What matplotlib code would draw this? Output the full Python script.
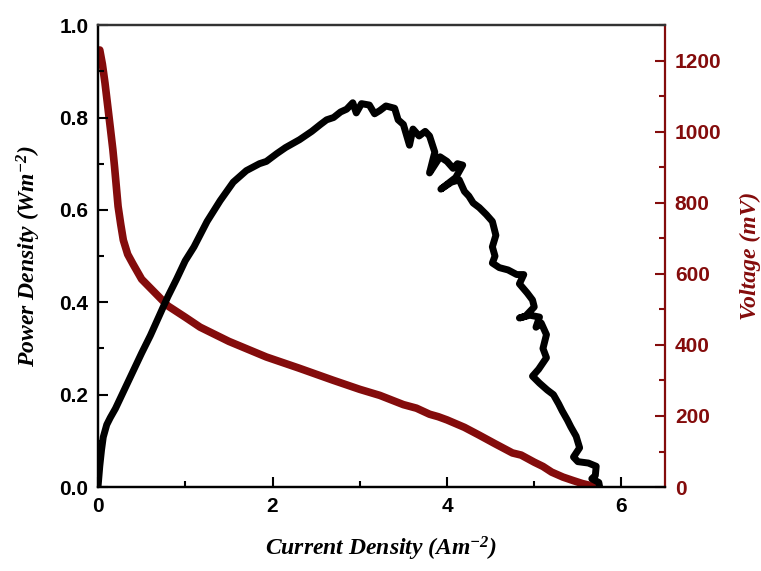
import matplotlib
matplotlib.use("Agg")
import matplotlib.pyplot as plt
from matplotlib.ticker import MultipleLocator

plt.rcParams["mathtext.fontset"] = "custom"
plt.rcParams["mathtext.rm"] = "Liberation Serif:bold:italic"
plt.rcParams["mathtext.it"] = "Liberation Serif:bold:italic"
plt.rcParams["mathtext.bf"] = "Liberation Serif:bold:italic"

# power density curve (noisy part typed point by point)
pd_x = [0.00, 0.02, 0.04, 0.06, 0.10, 0.14, 0.20, 0.30, 0.40, 0.50, 0.60, 0.70,
        0.80, 0.90, 1.00, 1.10, 1.25, 1.40, 1.55, 1.70, 1.85, 1.93, 2.05, 2.15,
        2.31, 2.45, 2.55, 2.62, 2.70, 2.78, 2.85, 2.92, 2.96, 3.02, 3.11, 3.17,
        3.23, 3.30, 3.40, 3.44, 3.50, 3.57, 3.61, 3.68, 3.75, 3.80, 3.86, 3.80,
        3.92, 4.00, 4.07, 4.12, 4.18, 4.10, 3.93, 4.05, 4.14, 4.20, 4.25, 4.30,
        4.37, 4.45, 4.52, 4.56, 4.52, 4.55, 4.52, 4.60, 4.70, 4.80, 4.88, 4.83,
        4.92, 4.98, 5.00, 4.90, 4.83, 4.95, 5.06, 5.02, 5.08, 5.14, 5.10, 5.14,
        5.05, 4.98, 5.06, 5.15, 5.22, 5.28, 5.32, 5.38, 5.42, 5.48, 5.52, 5.45,
        5.50, 5.62, 5.71, 5.70, 5.66, 5.74, 5.75]
pd_y = [0.000, 0.045, 0.080, 0.108, 0.135, 0.150, 0.170, 0.210, 0.250, 0.290, 0.328, 0.370,
        0.412, 0.450, 0.490, 0.520, 0.575, 0.620, 0.660, 0.685, 0.700, 0.705, 0.722, 0.735,
        0.752, 0.770, 0.785, 0.795, 0.800, 0.812, 0.818, 0.832, 0.810, 0.830, 0.827, 0.808,
        0.815, 0.825, 0.820, 0.795, 0.785, 0.740, 0.775, 0.760, 0.770, 0.760, 0.725, 0.680,
        0.715, 0.705, 0.690, 0.700, 0.697, 0.670, 0.645, 0.660, 0.665, 0.640, 0.630, 0.615,
        0.605, 0.590, 0.575, 0.545, 0.520, 0.500, 0.485, 0.475, 0.470, 0.460, 0.460, 0.440,
        0.420, 0.405, 0.390, 0.370, 0.366, 0.372, 0.368, 0.346, 0.355, 0.330, 0.300, 0.280,
        0.255, 0.240, 0.225, 0.210, 0.200, 0.180, 0.165, 0.145, 0.130, 0.110, 0.085, 0.065,
        0.055, 0.052, 0.045, 0.025, 0.018, 0.010, 0.000]

# voltage curve (mV)
v_x = [0.02, 0.05, 0.08, 0.11, 0.14, 0.17, 0.19, 0.21, 0.23, 0.26, 0.29, 0.34,
       0.40, 0.50, 0.60, 0.80, 1.00, 1.17, 1.50, 1.93, 2.30, 2.69, 3.00, 3.23,
       3.50, 3.65, 3.80, 3.90, 4.00, 4.20, 4.37, 4.55, 4.75, 4.85, 5.00, 5.10,
       5.20, 5.33, 5.45, 5.55, 5.65, 5.72]
v_y = [1230, 1190, 1137, 1075, 1013, 950, 900, 845, 790, 740, 695, 655,
       628, 585, 560, 510, 478, 450, 410, 366, 335, 301, 275, 258,
       232, 222, 205, 198, 189, 168, 146, 122, 96, 90, 70, 58,
       42, 28, 18, 10, 4, 0]

red = "#840c0c"

fig = plt.figure(figsize=(7.61, 5.71), dpi=100)
ax = fig.add_axes([0.1288, 0.147, 0.7452, 0.809])
ax2 = ax.twinx()
ax.set_zorder(ax2.get_zorder() + 1)
ax.patch.set_visible(False)

ax2.plot(v_x, v_y, color=red, lw=5.5, solid_capstyle="round", solid_joinstyle="round")
ax.plot(pd_x, pd_y, color="black", lw=5, solid_capstyle="round", solid_joinstyle="round")

ax.set_xlim(0, 6.5)
ax.set_ylim(0, 1.0)
ax2.set_ylim(0, 1300)

ax.xaxis.set_minor_locator(MultipleLocator(1))
ax.yaxis.set_minor_locator(MultipleLocator(0.1))
ax2.yaxis.set_minor_locator(MultipleLocator(100))

tick_font = {"family": "Liberation Sans", "weight": "bold", "size": 15}
ax.set_xticks([0, 2, 4, 6])
ax.set_xticklabels(["0", "2", "4", "6"], fontdict=tick_font)
ax.set_yticks([0, 0.2, 0.4, 0.6, 0.8, 1.0])
ax.set_yticklabels(["0.0", "0.2", "0.4", "0.6", "0.8", "1.0"], fontdict=tick_font)
ax2.set_yticks([0, 200, 400, 600, 800, 1000, 1200])
ax2.set_yticklabels(["0", "200", "400", "600", "800", "1000", "1200"], fontdict=tick_font, color=red)

ax.tick_params(which="both", direction="in", width=1.5, top=False, right=False)
ax.tick_params(which="major", length=7, pad=7)
ax.tick_params(which="minor", length=4)
ax2.tick_params(which="both", direction="in", width=1.5, colors=red)
ax2.tick_params(which="major", length=7, pad=7)
ax2.tick_params(which="minor", length=4)

for s in ax.spines.values():
    s.set_linewidth(1.6)
ax.spines["top"].set_color("#333333")
ax.spines["right"].set_visible(False)
for s in ax2.spines.values():
    s.set_linewidth(1.6)
ax2.spines["right"].set_color(red)
ax2.spines["top"].set_color("#333333")

lab_font = {"family": "Liberation Serif", "weight": "bold", "style": "italic", "size": 17}
ax.set_xlabel(r"Current Density (Am$^{-2}$)", fontdict=lab_font, labelpad=14)
ax.set_ylabel(r"Power Density (Wm$^{-2}$)", fontdict=lab_font, labelpad=12)
ax2.set_ylabel("Voltage (mV)", fontdict=lab_font, color=red, labelpad=13)

fig.savefig("out.png", dpi=100)
